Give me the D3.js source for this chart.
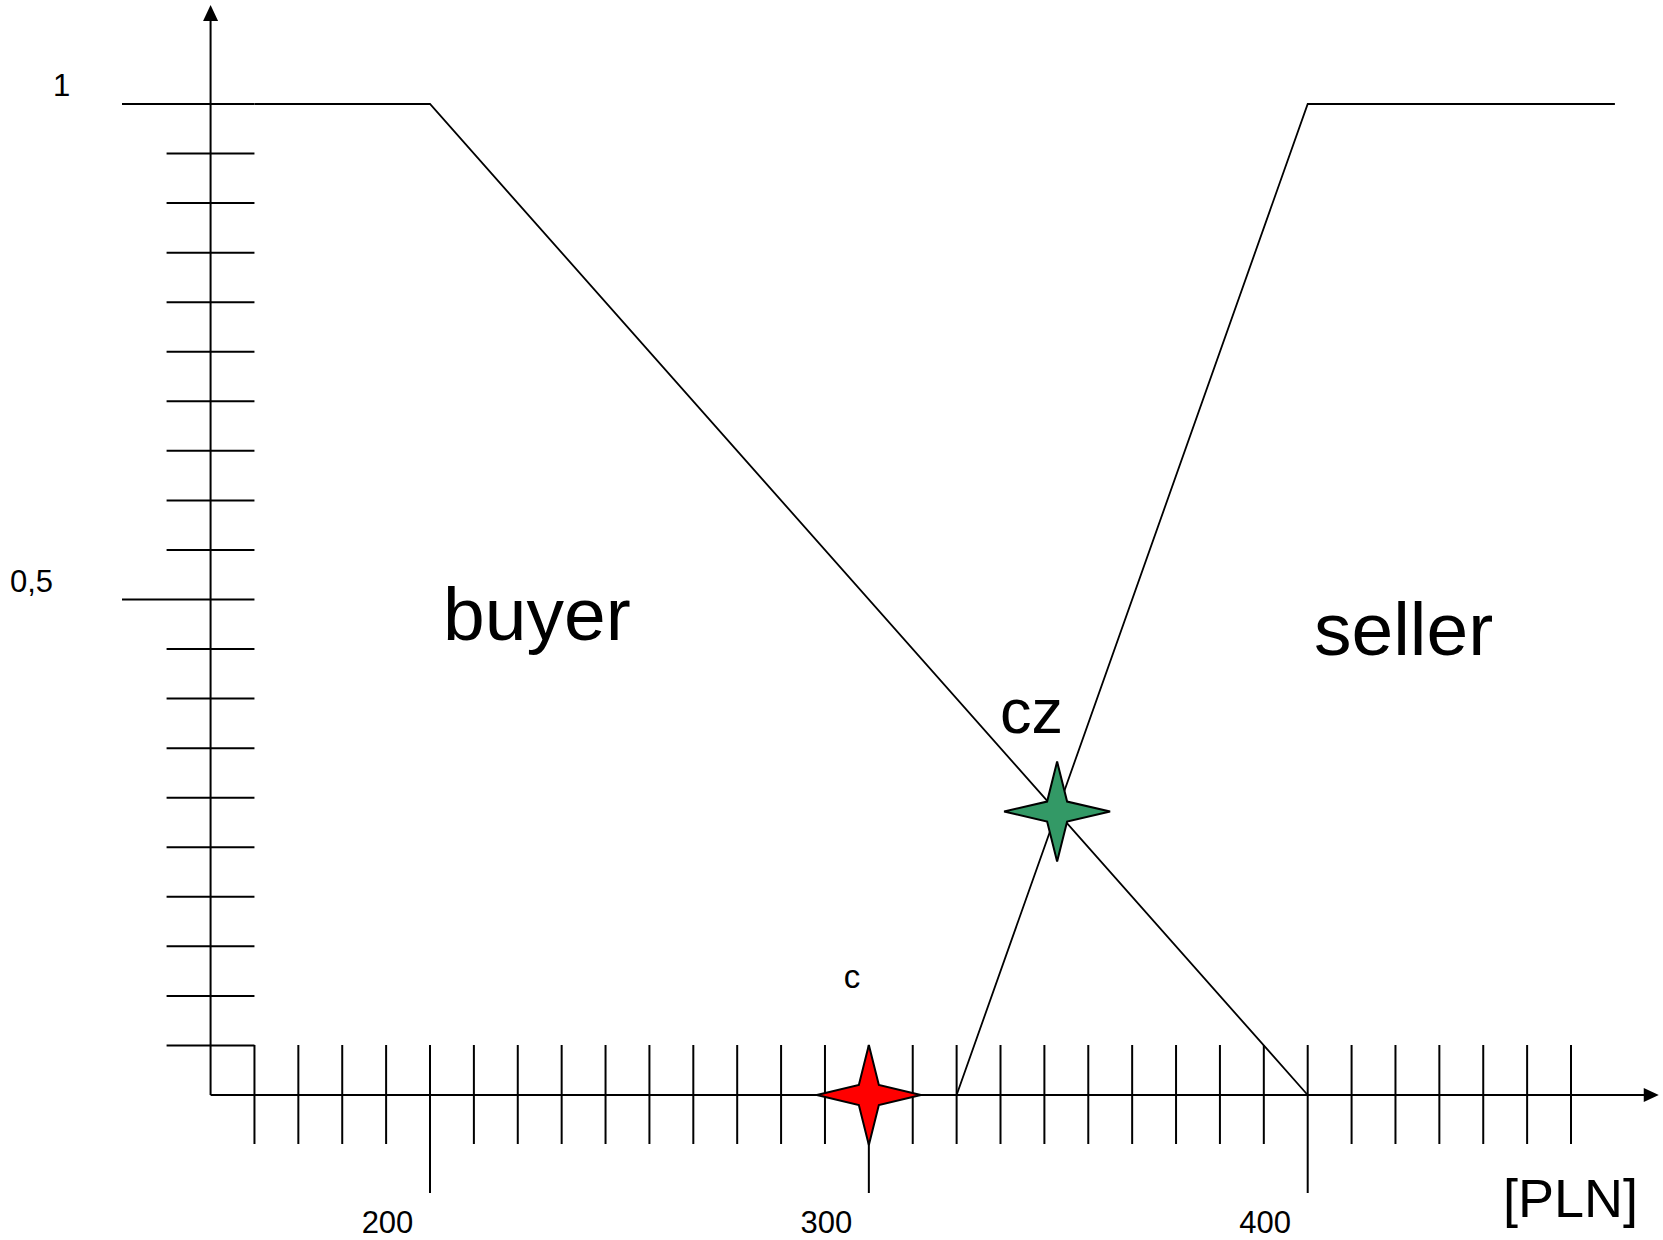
<!DOCTYPE html>
<html>
<head>
<meta charset="utf-8">
<script src="https://cdn.jsdelivr.net/npm/d3@7"></script>
<style>
  body { margin: 0; background: #fff; }
  text { font-family: "Liberation Sans", Arial, sans-serif; fill: #000; }
</style>
</head>
<body>
<div id="chart-area"></div>
<script>

var width = 1663,
    height = 1240;

// membership functions (price in PLN, degree 0..1)
var buyerPrice  = [160, 200, 400];
var buyerDegree = [1, 1, 0];
var sellerPrice  = [320, 400, 470];
var sellerDegree = [0, 1, 1];

// marked points
var cPrice = 300, cDegree = 0;
var czPrice = 342.9, czDegree = 0.286;

// axis ticks
var xMinorTicks = d3.range(160, 461, 10);
var xLabelTicks = [200, 300, 400];
var yMinorTicks = d3.range(1, 20).map(function(i) { return i / 20; });
var yLabelTicks = [1, 0.5];
var yLabelText = ["1", "0,5"];

var svg = d3.select("#chart-area").append("svg")
    .attr("width", width)
    .attr("height", height);

var x = d3.scaleLinear().domain([200, 400]).range([430, 1307.7]);
var y = d3.scaleLinear().domain([0, 1]).range([1095, 104]);

var x0 = x(150), y0 = y(0);

// ---- axes
svg.append("line")
    .attr("x1", x0).attr("y1", y0)
    .attr("x2", x(480) - 14).attr("y2", y0)
    .attr("stroke", "black").attr("stroke-width", 2);
svg.append("path")
    .attr("d", "M" + x(480) + "," + y0 + "L" + (x(480) - 15) + "," + (y0 - 7) + "L" + (x(480) - 15) + "," + (y0 + 7) + "Z")
    .attr("fill", "black");

svg.append("line")
    .attr("x1", x0).attr("y1", y0)
    .attr("x2", x0).attr("y2", y(1.1) + 14)
    .attr("stroke", "black").attr("stroke-width", 2);
svg.append("path")
    .attr("d", "M" + x0 + "," + y(1.1) + "L" + (x0 - 7.5) + "," + (y(1.1) + 16) + "L" + (x0 + 7.5) + "," + (y(1.1) + 16) + "Z")
    .attr("fill", "black");

// x ticks
svg.selectAll(".xtick")
  .data(xMinorTicks)
  .enter()
  .append("line")
  .attr("class", "xtick")
  .attr("x1", d => x(d)).attr("x2", d => x(d))
  .attr("y1", y0 - 50)
  .attr("y2", d => xLabelTicks.indexOf(d) >= 0 ? y0 + 98 : y0 + 49)
  .attr("stroke", "black").attr("stroke-width", 2);

svg.selectAll(".xlabel")
  .data(xLabelTicks)
  .enter()
  .append("text")
  .attr("class", "xlabel")
  .attr("x", d => x(d) - 42.5)
  .attr("y", 1233)
  .attr("text-anchor", "middle")
  .style("font-size", "31px")
  .text(d => d);

// y ticks
svg.selectAll(".ytick")
  .data(yMinorTicks.concat([1]))
  .enter()
  .append("line")
  .attr("class", "ytick")
  .attr("x1", d => (d === 0.5 || d === 1) ? 122 : x0 - 44)
  .attr("x2", x(160))
  .attr("y1", d => y(d)).attr("y2", d => y(d))
  .attr("stroke", "black").attr("stroke-width", 2);

svg.selectAll(".ylabel")
  .data(yLabelTicks)
  .enter()
  .append("text")
  .attr("class", "ylabel")
  .attr("x", (d, i) => i === 0 ? 53 : 10)
  .attr("y", d => y(d) - 8)
  .style("font-size", "31px")
  .text((d, i) => yLabelText[i]);

// ---- membership lines
var line = d3.line()
    .x(d => x(d[0]))
    .y(d => y(d[1]));

svg.append("path")
    .datum(d3.zip(buyerPrice, buyerDegree))
    .attr("d", line)
    .attr("fill", "none")
    .attr("stroke", "black").attr("stroke-width", 1.8);

svg.append("path")
    .datum(d3.zip(sellerPrice, sellerDegree))
    .attr("d", line)
    .attr("fill", "none")
    .attr("stroke", "black").attr("stroke-width", 1.8);

// ---- stars
function star(cx, cy, rx, ry, ri) {
  var pts = [[0, -ry], [ri, -ri], [rx, 0], [ri, ri], [0, ry], [-ri, ri], [-rx, 0], [-ri, -ri]];
  return d3.line()(pts.map(p => [cx + p[0], cy + p[1]])) + "Z";
}

svg.append("path")
    .attr("d", star(x(cPrice), y(cDegree), 52, 50, 10))
    .attr("fill", "#ff0000")
    .attr("stroke", "black").attr("stroke-width", 2);

svg.append("path")
    .attr("d", star(x(czPrice), y(czDegree), 53, 50, 10))
    .attr("fill", "#339966")
    .attr("stroke", "black").attr("stroke-width", 2);

// ---- labels
svg.append("text")
    .attr("x", 443).attr("y", 640)
    .style("font-size", "75px")
    .text("buyer");

svg.append("text")
    .attr("x", 1314).attr("y", 655)
    .style("font-size", "75px")
    .text("seller");

svg.append("text")
    .attr("x", 1000).attr("y", 733)
    .style("font-size", "63px")
    .text("cz");

svg.append("text")
    .attr("x", 852).attr("y", 988)
    .attr("text-anchor", "middle")
    .style("font-size", "33px")
    .text("c");

svg.append("text")
    .attr("x", 1503).attr("y", 1217)
    .style("font-size", "54px")
    .text("[PLN]");

</script>
</body>
</html>
